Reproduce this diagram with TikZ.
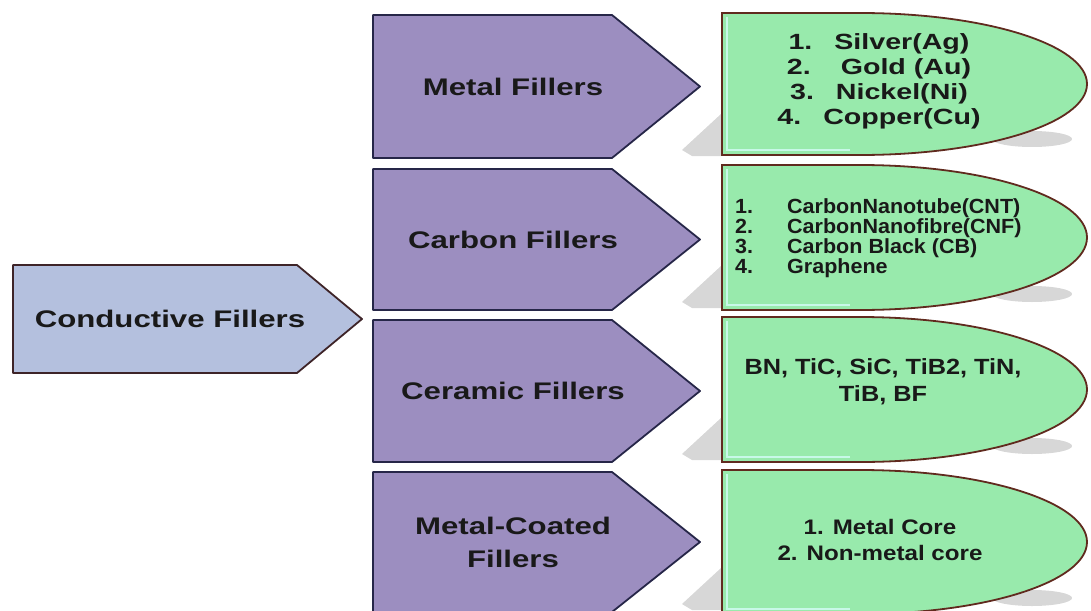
\documentclass[tikz,border=0pt]{standalone}
\usepackage{fontspec}
\setmainfont{Liberation Sans}
\newfontfamily\labelfont[FakeStretch=1.3]{Liberation Sans}
\newfontfamily\listfont[FakeStretch=1.15]{Liberation Sans}
\newfontfamily\narrowfont[FakeStretch=1.05]{Liberation Sans}
\definecolor{convfill}{RGB}{180,192,222}
\definecolor{convline}{RGB}{62,36,40}
\definecolor{purplefill}{RGB}{156,142,192}
\definecolor{purpleline}{RGB}{38,38,72}
\definecolor{greenfill}{RGB}{152,234,172}
\definecolor{greenline}{RGB}{96,42,30}
\definecolor{greenedge}{RGB}{200,248,232}
\begin{document}
\begin{tikzpicture} [x=1pt, y=-1pt,
                every node/.style={inner sep=0pt, align=center, text=black!90},
                arrow_style/.style={draw=purpleline, fill=purplefill, line width=1.8pt, line join=round},
                bullet_style/.style={draw=greenline, fill=greenfill, line width=1.8pt},
                shadow_style/.style={fill=black!45, opacity=0.35}]
                \tikzset{big label/.style={font=\labelfont\bfseries\fontsize{24}{33}\selectfont}}
                \useasboundingbox (0,0) rectangle (1091,610);
                \clip (0,0) rectangle (1091,610);
                % green lists on the right
                \foreach \ya/\yb in {13/155, 165/310, 317/462, 470/614} {
                    \pgfmathsetmacro\ry{(\yb-\ya)/2}
                    \fill[shadow_style] (1032,\yb-16) ellipse[x radius=40, y radius=8];
                    \draw[bullet_style] (722,\ya) -- (860,\ya)
                        arc[start angle=-90, end angle=90, x radius=227, y radius=\ry]
                        -- (722,\yb) -- cycle;
                    \draw[greenedge, line width=2pt] (727,\ya+4) -- (727,\yb-5) -- (850,\yb-5);
                }
                % purple filler groups
                \foreach \ya/\yb/\name/\txt in {15/158/metal/{Metal Fillers}, 169/310/carbon/{Carbon Fillers},
                        320/462/ceramic/{Ceramic Fillers}, 472/612/coated/{Metal-Coated\\Fillers}} {
                    \pgfmathsetmacro\ym{(\ya+\yb)/2}
                    \fill[shadow_style] (682,\yb-8) -- (721,\yb-44) -- (721,\yb-2) -- (692,\yb-2) -- cycle;
                    \draw[arrow_style] (373,\ya) -- (612,\ya) -- (700,\ym) -- (612,\yb) -- (373,\yb) -- cycle;
                    \node[big label] (\name) at (513,\ym) {\txt};
                }
                % root
                \draw[draw=convline, fill=convfill, line width=1.8pt, line join=round]
                    (13,265) -- (297,265) -- (362,319) -- (297,373) -- (13,373) -- cycle;
                \node[big label] (conductive) at (170,319) {Conductive Fillers};
                % list texts
                \node[font=\labelfont\bfseries\fontsize{22}{25}\selectfont] (metallist) at (879,81)
                    {1.\quad Silver(Ag)\\2.\quad\ Gold (Au)\\3.\quad Nickel(Ni)\\4.\quad Copper(Cu)};
                \node[anchor=west, align=left, font=\narrowfont\bfseries\fontsize{20.5}{19}\selectfont] (carbonlist) at (735,238)
                    {\makebox[52pt][l]{1.}CarbonNanotube(CNT)\\\makebox[52pt][l]{2.}CarbonNanofibre(CNF)\\
                     \makebox[52pt][l]{3.}Carbon Black (CB)\\\makebox[52pt][l]{4.}Graphene};
                \node[font=\listfont\bfseries\fontsize{22}{27}\selectfont] (ceramiclist) at (883,382)
                    {BN, TiC, SiC, TiB2, TiN,\\TiB, BF};
                \node[font=\listfont\bfseries\fontsize{21}{26}\selectfont] (coatedlist) at (880,540)
                    {1. Metal Core\\2. Non-metal core};
            \end{tikzpicture}
\end{document}
